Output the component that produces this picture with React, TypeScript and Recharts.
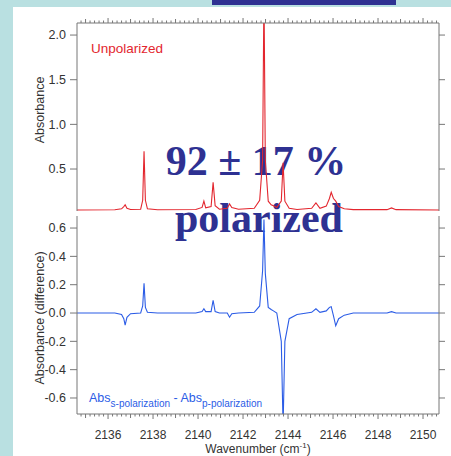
import React from 'react';
import { LineChart, Line, XAxis, YAxis } from 'recharts';

// spectrum points (cm-1)
const wavenumber = [
  2134.62, 2136.3, 2136.6, 2136.7, 2136.76, 2136.84, 2137.0,
  2137.45, 2137.54, 2137.6, 2137.66, 2137.75, 2138.2,
  2139.9, 2140.18, 2140.26, 2140.34, 2140.58, 2140.67, 2140.76, 2140.95,
  2141.3, 2141.4, 2141.5, 2141.8,
  2142.5, 2142.74, 2142.87, 2142.93, 2142.99, 2143.12, 2143.25, 2143.35, 2143.5,
  2143.7, 2143.78, 2143.86, 2144.05, 2144.4,
  2145.05, 2145.24, 2145.42, 2145.7, 2145.84, 2145.92, 2146.02, 2146.12, 2146.25, 2146.5, 2146.9,
  2148.4, 2148.6, 2148.8, 2150.71,
];

const unpolarized = [
  0.042, 0.044, 0.055, 0.08, 0.1, 0.06, 0.046,
  0.05, 0.15, 0.7, 0.15, 0.055, 0.044,
  0.046, 0.07, 0.14, 0.065, 0.08, 0.35, 0.09, 0.05,
  0.06, 0.11, 0.07, 0.05,
  0.06, 0.15, 0.6, 2.5, 0.6, 0.14, 0.1, 0.09, 0.07,
  0.14, 0.57, 0.14, 0.06, 0.047,
  0.06, 0.12, 0.06, 0.085, 0.17, 0.24, 0.17, 0.14, 0.08, 0.055, 0.045,
  0.045, 0.065, 0.045, 0.042,
];

const difference = [
  0, 0, -0.01, -0.04, -0.085, -0.03, -0.005,
  0, 0.05, 0.21, 0.04, 0.005, 0,
  0, 0.01, 0.03, 0.01, 0.01, 0.09, 0.01, 0,
  0, -0.03, -0.005, 0,
  0.005, 0.05, 0.3, 0.66, 0.28, 0.04, 0.025, 0.015, 0,
  -0.2, -0.8, -0.2, -0.04, -0.01,
  0.005, 0.03, 0.005, 0.015, 0.04, 0.045, -0.02, -0.09, -0.04, -0.015, 0,
  0, 0.01, 0, 0,
];

const xTickLabels = [2136, 2138, 2140, 2142, 2144, 2146, 2148, 2150];
const topYTicks = [0.5, 1.0, 1.5, 2.0];
const bottomYTicks = [-0.6, -0.4, -0.2, 0, 0.2, 0.4, 0.6];

const xDomain = [2134.62, 2150.71];
const topYDomain = [0.03, 2.135];
const bottomYDomain = [-0.713, 0.685];

// minor ticks every 0.2 cm-1
const minorTicks = Array.from({ length: 80 }, (_, i) => Math.round((2134.8 + i * 0.2) * 10) / 10);

const spectrum = wavenumber.map((w, i) => ({ w, unpol: unpolarized[i], diff: difference[i] }));

const AXIS = '#777777';
const TEXT = '#333333';
const SANS = '"Liberation Sans", Arial, Helvetica, sans-serif';
const RED = '#e3262e';
const BLUE = '#2b5ce6';

const tickLength = (v: number) => {
  const r = Math.round(v);
  if (Math.abs(v - r) > 1e-6) return 2.5;
  return xTickLabels.includes(r) ? 5 : 4;
};

const TopTick = ({ x, y, payload }: any) => (
  <line x1={x} x2={x} y1={y} y2={y - tickLength(payload.value)} stroke={AXIS} />
);

const BottomTick = ({ x, y, payload }: any) => {
  const v = payload.value;
  const labelled = xTickLabels.some((t) => Math.abs(t - v) < 1e-6);
  return (
    <g>
      <line x1={x} x2={x} y1={y} y2={y + tickLength(v)} stroke={AXIS} />
      {labelled && (
        <text x={x} y={y + 25} textAnchor="middle" fontSize={12} fill={TEXT} fontFamily={SANS}>
          {Math.round(v)}
        </text>
      )}
    </g>
  );
};

const yTick = { fontSize: 12.5, fill: TEXT, fontFamily: SANS };

export default function App() {
  return (
    <div
      style={{
        position: 'absolute',
        left: 0,
        top: 0,
        width: 451,
        height: 456,
        background: '#b9e0e1',
        overflow: 'hidden',
      }}
    >
      <div style={{ position: 'absolute', left: 13, top: 7, right: 0, bottom: 0, background: '#ffffff' }} />
      <div style={{ position: 'absolute', left: 212, top: 0, width: 184, height: 5, background: '#2e3192' }} />

      {/* annotations and axis titles */}
      <svg style={{ position: 'absolute', left: 0, top: 0 }} width={451} height={456}>
        <text x={256} y={175} textAnchor="middle" fontFamily='"Liberation Serif", "Times New Roman", serif'
          fontWeight="bold" fontSize={42} fill="#2e3192">
          92 ± 17 %
        </text>
        <text x={259} y={232} textAnchor="middle" fontFamily='"Liberation Serif", "Times New Roman", serif'
          fontWeight="bold" fontSize={42} fill="#2e3192">
          polarized
        </text>
        <text x={91} y={53} fontSize={13.5} fill={RED} fontFamily={SANS}>Unpolarized</text>
        <text x={89} y={402} fontSize={12.5} fill={BLUE} fontFamily={SANS}>
          Abs<tspan dy={5} fontSize={10}>s-polarization</tspan>
          <tspan dy={-5}> - Abs</tspan>
          <tspan dy={5} fontSize={10}>p-polarization</tspan>
        </text>
        <text transform="translate(44,110) rotate(-90)" textAnchor="middle" fontSize={12.5} fill={TEXT} fontFamily={SANS}>
          Absorbance
        </text>
        <text transform="translate(44,318) rotate(-90)" textAnchor="middle" fontSize={12.5} fill={TEXT} fontFamily={SANS}>
          Absorbance (difference)
        </text>
        <text x={258} y={453} textAnchor="middle" fontSize={12} fill={TEXT} fontFamily={SANS}>
          Wavenumber (cm<tspan dy={-5} fontSize={8}>-1</tspan><tspan dy={5}>)</tspan>
        </text>
      </svg>

      {/* unpolarized spectrum */}
      <div style={{ position: 'absolute', left: 0, top: 0 }}>
        <LineChart width={451} height={215} data={spectrum} margin={{ top: 13, right: 2, bottom: 4, left: 27 }}>
          <XAxis
            dataKey="w"
            type="number"
            orientation="top"
            domain={xDomain}
            allowDataOverflow
            ticks={minorTicks}
            interval={0}
            height={10}
            tickSize={0}
            tickMargin={0}
            tickLine={false}
            axisLine={{ stroke: AXIS }}
            tick={(p: any) => <TopTick {...p} />}
          />
          <YAxis
            domain={topYDomain}
            allowDataOverflow
            ticks={topYTicks}
            interval={0}
            width={50}
            tickSize={7}
            tickMargin={4}
            tick={yTick}
            tickLine={{ stroke: AXIS }}
            axisLine={{ stroke: AXIS }}
            tickFormatter={(v: number) => v.toFixed(1)}
          />
          <YAxis
            yAxisId="right"
            orientation="right"
            domain={topYDomain}
            allowDataOverflow
            ticks={topYTicks}
            interval={0}
            width={10}
            tickSize={6}
            tick={{ fontSize: 1 }}
            tickLine={{ stroke: AXIS }}
            axisLine={{ stroke: AXIS }}
            tickFormatter={() => ''}
          />
          <Line
            type="linear"
            dataKey="unpol"
            stroke={RED}
            strokeWidth={1.1}
            dot={false}
            activeDot={false}
            isAnimationActive={false}
          />
        </LineChart>
      </div>

      {/* s - p difference spectrum */}
      <div style={{ position: 'absolute', left: 0, top: 206 }}>
        <LineChart width={451} height={250} data={spectrum} margin={{ top: 10, right: 2, bottom: 12, left: 27 }}>
          <XAxis
            dataKey="w"
            type="number"
            domain={xDomain}
            allowDataOverflow
            ticks={minorTicks}
            interval={0}
            height={30}
            tickSize={0}
            tickMargin={0}
            tickLine={false}
            axisLine={{ stroke: AXIS }}
            tick={(p: any) => <BottomTick {...p} />}
          />
          <YAxis
            domain={bottomYDomain}
            allowDataOverflow
            ticks={bottomYTicks}
            interval={0}
            width={50}
            tickSize={7}
            tickMargin={4}
            tick={yTick}
            tickLine={{ stroke: AXIS }}
            axisLine={{ stroke: AXIS }}
            tickFormatter={(v: number) => v.toFixed(1)}
          />
          <YAxis
            yAxisId="right"
            orientation="right"
            domain={bottomYDomain}
            allowDataOverflow
            ticks={bottomYTicks}
            interval={0}
            width={10}
            tickSize={6}
            tick={{ fontSize: 1 }}
            tickLine={{ stroke: AXIS }}
            axisLine={{ stroke: AXIS }}
            tickFormatter={() => ''}
          />
          <Line
            type="linear"
            dataKey="diff"
            stroke={BLUE}
            strokeWidth={1.1}
            dot={false}
            activeDot={false}
            isAnimationActive={false}
          />
        </LineChart>
      </div>
    </div>
  );
}
